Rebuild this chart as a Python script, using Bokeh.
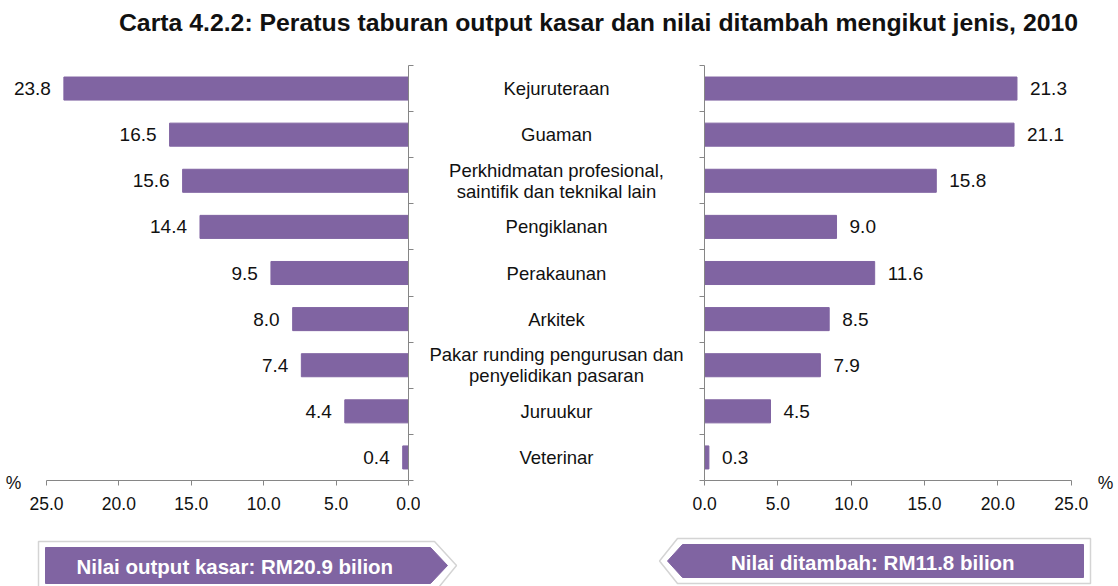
from bokeh.plotting import figure
from bokeh.layouts import column, row
from bokeh.models import Range1d, LinearAxis, FixedTicker, NumeralTickFormatter
from bokeh.core.properties import value
from bokeh.embed import file_html
from bokeh.resources import INLINE

# ---------------- data ----------------
categories = [
    "Kejuruteraan",
    "Guaman",
    "Perkhidmatan profesional,\nsaintifik dan teknikal lain",
    "Pengiklanan",
    "Perakaunan",
    "Arkitek",
    "Pakar runding pengurusan dan\npenyelidikan pasaran",
    "Juruukur",
    "Veterinar",
]
output_kasar = [23.8, 16.5, 15.6, 14.4, 9.5, 8.0, 7.4, 4.4, 0.4]
nilai_ditambah = [21.3, 21.1, 15.8, 9.0, 11.6, 8.5, 7.9, 4.5, 0.3]
x_ticks = [0, 5, 10, 15, 20, 25]
title_text = "Carta 4.2.2: Peratus taburan output kasar dan nilai ditambah mengikut jenis, 2010"
banner_left_text = "Nilai output kasar:  RM20.9  bilion"
banner_right_text = "Nilai ditambah:  RM11.8  bilion"
unit_text = "%"

# ---------------- style / layout ----------------
FONT = "Liberation Sans"
PURPLE = "#8064A2"
AXIS = "#868686"
TXT = "#111111"
N = len(categories)
ys = [i + 0.5 for i in range(N)]
X_MAX = 25

TOP_B = 15
FRAME_H = 415
BOT_B = 45
ROW_H = TOP_B + FRAME_H + BOT_B

PX_L = 14.48        # px per unit, left chart
PX_R = 14.67        # px per unit, right chart
LEFT_PAD = 13
LEFT_FRAME_W = 395
RIGHT_FRAME_W = 401
RIGHT_PAD = 9
AX_B = 12           # border for the vertical axes
MID_W = 272


def base_fig(w, h, xr, yr, ml=0, mr=0, mt=0, mb=0):
    p = figure(width=w, height=h, x_range=xr, y_range=yr,
               output_backend="svg", toolbar_location=None,
               x_axis_location=None, y_axis_location=None,
               min_border_left=ml, min_border_right=mr,
               min_border_top=mt, min_border_bottom=mb)
    p.outline_line_color = None
    p.grid.visible = False
    p.background_fill_color = "white"
    p.border_fill_color = "white"
    return p


def make_x_axis():
    ax = LinearAxis()
    ax.ticker = FixedTicker(ticks=x_ticks)
    ax.formatter = NumeralTickFormatter(format="0.0")
    ax.bounds = (0, X_MAX)
    ax.axis_line_color = AXIS
    ax.major_tick_line_color = AXIS
    ax.major_tick_in = 0
    ax.major_tick_out = 5
    ax.minor_tick_line_color = None
    ax.major_label_text_font = FONT
    ax.major_label_text_font_size = "17.5px"
    ax.major_label_text_color = TXT
    ax.major_label_standoff = 11
    ax.axis_label = unit_text
    ax.axis_label_text_font = FONT
    ax.axis_label_text_font_size = "17.5px"
    ax.axis_label_text_font_style = "normal"
    ax.axis_label_text_color = TXT
    ax.axis_label_standoff = -40
    ax.axis_label_align = "end"
    return ax


def make_y_axis():
    ticks = list(range(N + 1))
    ax = LinearAxis()
    ax.ticker = FixedTicker(ticks=ticks)
    ax.bounds = (0, N)
    ax.axis_line_color = AXIS
    ax.major_tick_line_color = AXIS
    ax.major_tick_in = 0
    ax.major_tick_out = 5
    ax.minor_tick_line_color = None
    ax.major_label_overrides = {t: "" for t in ticks}
    ax.major_label_text_color = None
    ax.major_label_standoff = 0
    return ax


def value_text(p, vals, offset, align):
    p.text(x=vals, y=ys, text=[f"{v:.1f}" for v in vals],
           x_offset=offset, text_align=align, text_baseline="middle",
           text_font=value(FONT), text_font_size=value("19px"), text_color=TXT)


# ---------------- left chart ----------------
left = base_fig(LEFT_PAD + LEFT_FRAME_W + AX_B, ROW_H, Range1d(LEFT_FRAME_W / PX_L, 0),
                Range1d(N, 0), ml=LEFT_PAD, mr=AX_B, mt=TOP_B, mb=BOT_B)
left.add_layout(make_x_axis(), "below")
left.add_layout(make_y_axis(), "right")
left.hbar(y=ys, left=0, right=output_kasar, height=0.5,
          fill_color=PURPLE, line_color=PURPLE)
value_text(left, output_kasar, -13, "right")

# ---------------- middle labels ----------------
mid = base_fig(MID_W, ROW_H, Range1d(0, 1), Range1d(N, 0), mt=TOP_B, mb=BOT_B)
mid.text(x=[0.5] * N, y=ys, text=categories, text_align="center",
         text_baseline="middle", text_font=value(FONT),
         text_font_size=value("18.5px"), text_color=TXT, text_line_height=0.99)

# ---------------- right chart ----------------
right = base_fig(AX_B + RIGHT_FRAME_W + RIGHT_PAD, ROW_H, Range1d(0, RIGHT_FRAME_W / PX_R),
                 Range1d(N, 0), ml=AX_B, mr=RIGHT_PAD, mt=TOP_B, mb=BOT_B)
right.add_layout(make_x_axis(), "below")
right.add_layout(make_y_axis(), "left")
right.hbar(y=ys, left=0, right=nilai_ditambah, height=0.5,
           fill_color=PURPLE, line_color=PURPLE)
value_text(right, nilai_ditambah, 13, "left")

TOTAL_W = LEFT_PAD + LEFT_FRAME_W + AX_B + MID_W + AX_B + RIGHT_FRAME_W + RIGHT_PAD

# ---------------- title ----------------
top = base_fig(TOTAL_W, 50, Range1d(0, TOTAL_W), Range1d(50, 0))
top.text(x=[598], y=[22], text=[title_text], text_align="center", text_baseline="middle",
         text_font=value(FONT), text_font_size=value("24.8px"), text_font_style="bold",
         text_color=TXT)

# ---------------- banners ----------------
B_TOP = 50 + ROW_H
B_H = 586 - B_TOP
bottom = base_fig(TOTAL_W, B_H, Range1d(0, TOTAL_W), Range1d(586, B_TOP))
bl_outer_x = [38, 434, 456, 434, 38]
bl_outer_y = [541, 541, 565, 592, 592]
bl_x = [45, 430, 447, 430, 45]
bl_y = [547, 547, 565, 583, 583]
br_outer_x = [1090, 1090, 677, 659, 677]
br_outer_y = [538, 583, 583, 560.5, 538]
br_x = [1083, 1083, 682, 667, 682]
br_y = [544, 577, 577, 560.5, 544]
bottom.patch(bl_outer_x, bl_outer_y, fill_color="white", line_color="#d4d4d4", line_width=1.5)
bottom.patch(br_outer_x, br_outer_y, fill_color="white", line_color="#d4d4d4", line_width=1.5)
bottom.patch(bl_x, bl_y, fill_color=PURPLE, line_color=PURPLE)
bottom.patch(br_x, br_y, fill_color=PURPLE, line_color=PURPLE)
bottom.text(x=[240, 878], y=[566, 562], text=[banner_left_text, banner_right_text],
            text_align="center", text_baseline="middle", text_font=value(FONT),
            text_font_size=value("20.5px"), text_font_style="bold", text_color="white")

layout = column(top, row(left, mid, right), bottom)

with open("out.html", "w") as f:
    f.write(file_html(layout, INLINE))
